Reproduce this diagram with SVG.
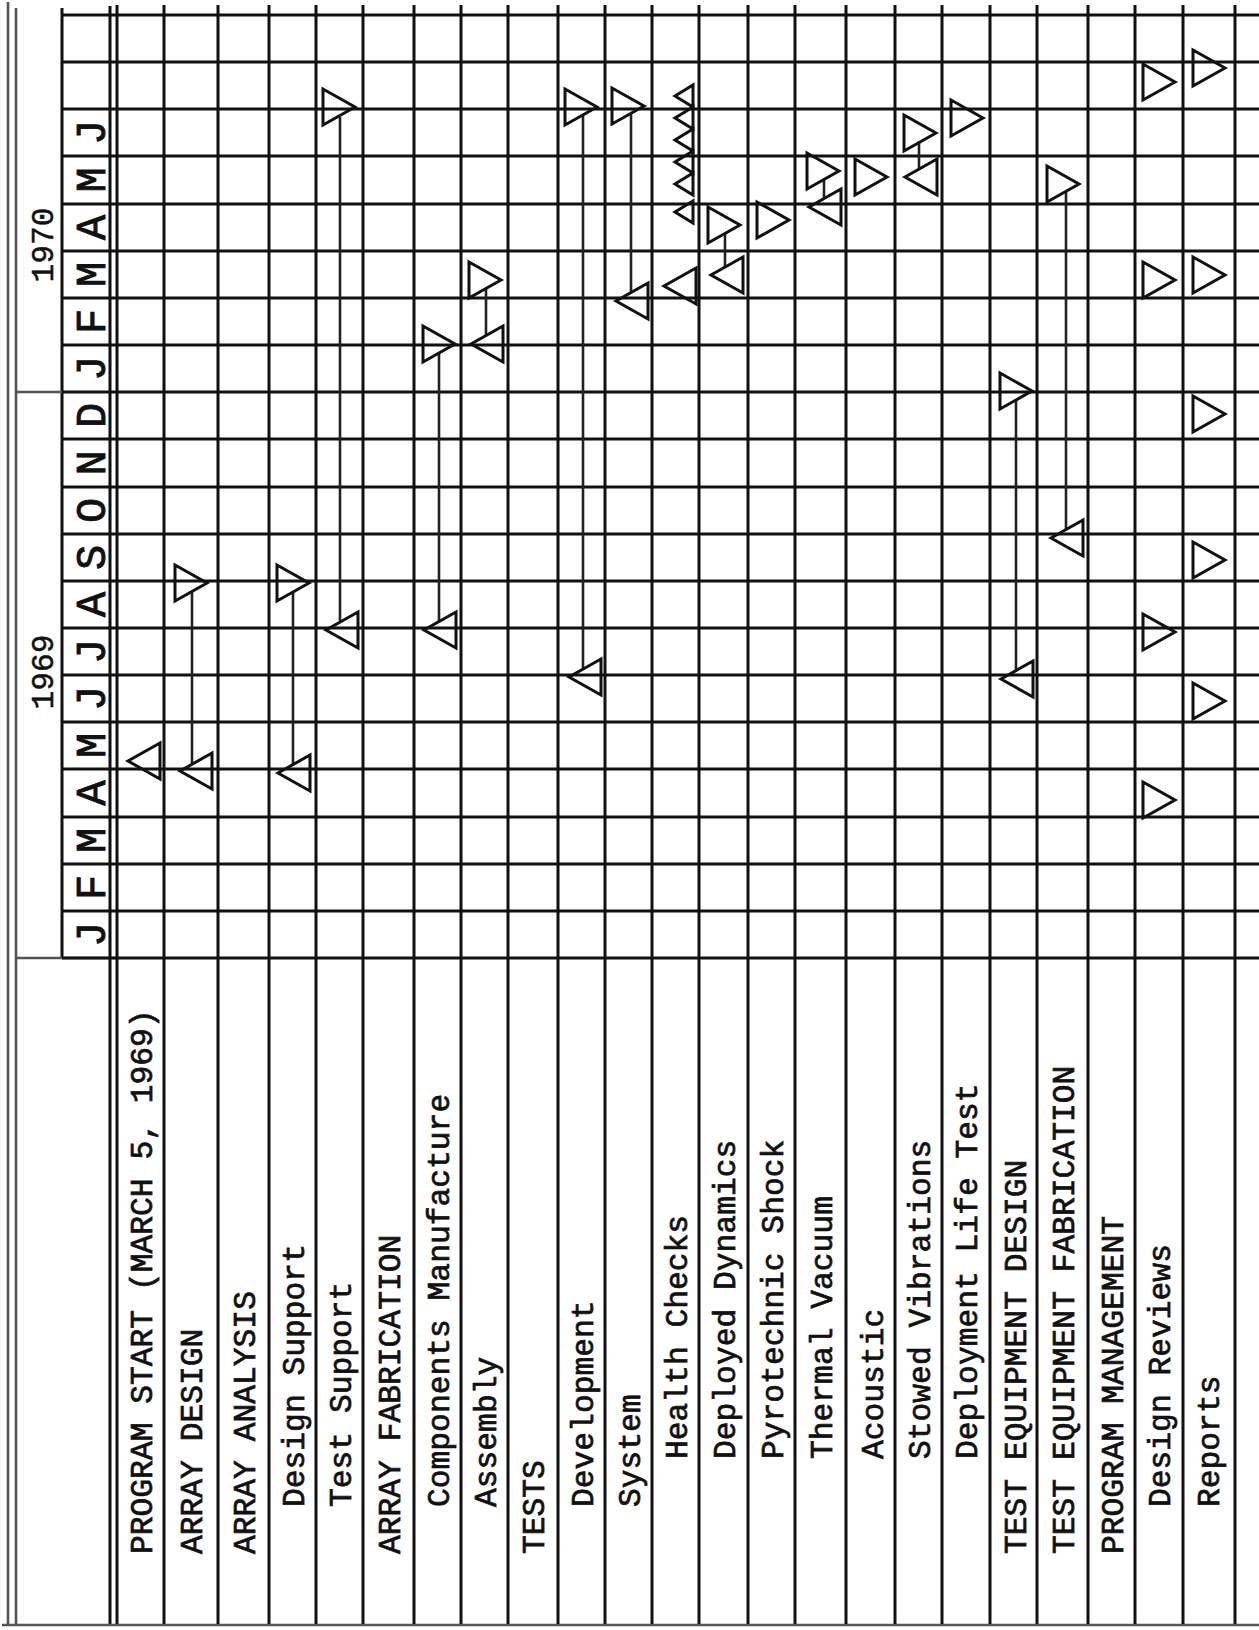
<svg xmlns="http://www.w3.org/2000/svg" width="1259" height="1630" viewBox="0 0 1259 1630">
<style>
.bg{fill:#ffffff}
.g{stroke:#111;stroke-width:3;fill:none}
.o{stroke:#555;stroke-width:2.6;fill:none}
.tri{fill:none;stroke:#111;stroke-width:3;stroke-linejoin:miter}
.conn{stroke:#222;stroke-width:2.6;fill:none}
.lbl{font-family:"Liberation Mono","DejaVu Sans Mono",monospace;font-size:31.3px;fill:#111;stroke:#111;stroke-width:0.7}
.mon{font-family:"Liberation Mono","DejaVu Sans Mono",monospace;font-size:42px;fill:#111;stroke:#111;stroke-width:0.9;text-anchor:middle}
.yr{font-family:"Liberation Mono","DejaVu Sans Mono",monospace;font-size:31.3px;fill:#111;stroke:#111;stroke-width:0.5;text-anchor:middle}
</style>
<defs>
<path id="tR" class="tri" d="M0,-18 V18 L32,0 Z"/>
<path id="tL" class="tri" d="M0,-18 V18 L-32,0 Z"/>
<path id="tLs" class="tri" d="M0,-11 V11 L-18,0 Z"/>
</defs>
<rect class="bg" x="0" y="0" width="1259" height="1630"/>

<g id="frame">
<line class="o" x1="8" y1="2" x2="8" y2="1626"/>
<line class="o" x1="16" y1="8" x2="16" y2="1626"/>
<line class="g" x1="62" y1="8" x2="62" y2="958"/>
<line class="g" x1="110" y1="6" x2="110" y2="1624"/>
<line class="o" x1="16" y1="392" x2="62" y2="392"/>
<line class="o" x1="16" y1="958" x2="117" y2="958"/>
<line class="o" x1="2" y1="1625" x2="1259" y2="1625"/>
</g>

<g id="grid">
<line class="g" x1="117" y1="5" x2="117" y2="1624"/>
<line class="g" x1="164" y1="5" x2="164" y2="1624"/>
<line class="g" x1="218" y1="5" x2="218" y2="1624"/>
<line class="g" x1="269" y1="5" x2="269" y2="1624"/>
<line class="g" x1="316" y1="5" x2="316" y2="1624"/>
<line class="g" x1="363" y1="5" x2="363" y2="1624"/>
<line class="g" x1="414" y1="5" x2="414" y2="1624"/>
<line class="g" x1="461" y1="5" x2="461" y2="1624"/>
<line class="g" x1="508" y1="5" x2="508" y2="1624"/>
<line class="g" x1="558" y1="5" x2="558" y2="1624"/>
<line class="g" x1="605" y1="5" x2="605" y2="1624"/>
<line class="g" x1="652" y1="5" x2="652" y2="1624"/>
<line class="g" x1="699" y1="5" x2="699" y2="1624"/>
<line class="g" x1="748" y1="5" x2="748" y2="1624"/>
<line class="g" x1="795" y1="5" x2="795" y2="1624"/>
<line class="g" x1="846" y1="5" x2="846" y2="1624"/>
<line class="g" x1="895" y1="5" x2="895" y2="1624"/>
<line class="g" x1="942" y1="5" x2="942" y2="1624"/>
<line class="g" x1="990" y1="5" x2="990" y2="1624"/>
<line class="g" x1="1037" y1="5" x2="1037" y2="1624"/>
<line class="g" x1="1088" y1="5" x2="1088" y2="1624"/>
<line class="g" x1="1135" y1="5" x2="1135" y2="1624"/>
<line class="g" x1="1183" y1="5" x2="1183" y2="1624"/>
<line class="g" x1="1235" y1="5" x2="1235" y2="1624"/>
<line class="g" x1="62" y1="15" x2="1259" y2="15"/>
<line class="g" x1="62" y1="62" x2="1259" y2="62"/>
<line class="g" x1="62" y1="109" x2="1259" y2="109"/>
<line class="g" x1="62" y1="156" x2="1259" y2="156"/>
<line class="g" x1="62" y1="204" x2="1259" y2="204"/>
<line class="g" x1="62" y1="251" x2="1259" y2="251"/>
<line class="g" x1="62" y1="298" x2="1259" y2="298"/>
<line class="g" x1="62" y1="345" x2="1259" y2="345"/>
<line class="g" x1="62" y1="392" x2="1259" y2="392"/>
<line class="g" x1="62" y1="439" x2="1259" y2="439"/>
<line class="g" x1="62" y1="487" x2="1259" y2="487"/>
<line class="g" x1="62" y1="534" x2="1259" y2="534"/>
<line class="g" x1="62" y1="581" x2="1259" y2="581"/>
<line class="g" x1="62" y1="628" x2="1259" y2="628"/>
<line class="g" x1="62" y1="675" x2="1259" y2="675"/>
<line class="g" x1="62" y1="722" x2="1259" y2="722"/>
<line class="g" x1="62" y1="769" x2="1259" y2="769"/>
<line class="g" x1="62" y1="817" x2="1259" y2="817"/>
<line class="g" x1="62" y1="864" x2="1259" y2="864"/>
<line class="g" x1="62" y1="911" x2="1259" y2="911"/>
<line class="g" x1="62" y1="958" x2="1259" y2="958"/>
</g>

<g id="header">
<text class="yr" x="53" y="245" transform="rotate(-90 53 245)">1970</text>
<text class="yr" x="53" y="672" transform="rotate(-90 53 672)">1969</text>
<text class="mon" x="105" y="132.5" transform="rotate(-90 105 132.5)">J</text>
<text class="mon" x="105" y="180" transform="rotate(-90 105 180)">M</text>
<text class="mon" x="105" y="227.5" transform="rotate(-90 105 227.5)">A</text>
<text class="mon" x="105" y="274.5" transform="rotate(-90 105 274.5)">M</text>
<text class="mon" x="105" y="321.5" transform="rotate(-90 105 321.5)">F</text>
<text class="mon" x="105" y="368.5" transform="rotate(-90 105 368.5)">J</text>
<text class="mon" x="105" y="415.5" transform="rotate(-90 105 415.5)">D</text>
<text class="mon" x="105" y="463" transform="rotate(-90 105 463)">N</text>
<text class="mon" x="105" y="510.5" transform="rotate(-90 105 510.5)">O</text>
<text class="mon" x="105" y="557.5" transform="rotate(-90 105 557.5)">S</text>
<text class="mon" x="105" y="604.5" transform="rotate(-90 105 604.5)">A</text>
<text class="mon" x="105" y="651.5" transform="rotate(-90 105 651.5)">J</text>
<text class="mon" x="105" y="698.5" transform="rotate(-90 105 698.5)">J</text>
<text class="mon" x="105" y="745.5" transform="rotate(-90 105 745.5)">M</text>
<text class="mon" x="105" y="793" transform="rotate(-90 105 793)">A</text>
<text class="mon" x="105" y="840.5" transform="rotate(-90 105 840.5)">M</text>
<text class="mon" x="105" y="887.5" transform="rotate(-90 105 887.5)">F</text>
<text class="mon" x="105" y="934.5" transform="rotate(-90 105 934.5)">J</text>
</g>

<g id="connectors">
<line class="conn" x1="192" y1="592" x2="192" y2="765"/>
<line class="conn" x1="293" y1="593" x2="293" y2="764"/>
<line class="conn" x1="340" y1="117" x2="340" y2="621"/>
<line class="conn" x1="439" y1="353" x2="439" y2="621"/>
<line class="conn" x1="486" y1="289" x2="486" y2="335"/>
<line class="conn" x1="583" y1="115" x2="583" y2="669"/>
<line class="conn" x1="631" y1="114" x2="631" y2="293"/>
<line class="conn" x1="725" y1="233" x2="725" y2="267"/>
<line class="conn" x1="824" y1="179" x2="824" y2="198"/>
<line class="conn" x1="919" y1="141" x2="919" y2="169"/>
<line class="conn" x1="1016" y1="399" x2="1016" y2="671"/>
<line class="conn" x1="1066" y1="191" x2="1066" y2="530"/>
</g>

<g id="row-program-start">
<text class="lbl" x="151.5" y="1554" transform="rotate(-90 151.5 1554)">PROGRAM START (MARCH 5, 1969)</text>
<use href="#tL" x="160" y="761"/>
</g>
<g id="row-array-design">
<text class="lbl" x="202" y="1554" transform="rotate(-90 202 1554)">ARRAY DESIGN</text>
<use href="#tR" x="175" y="583"/>
<use href="#tL" x="212" y="771"/>
</g>
<g id="row-array-analysis">
<text class="lbl" x="254.5" y="1554" transform="rotate(-90 254.5 1554)">ARRAY ANALYSIS</text>
</g>
<g id="row-design-support">
<text class="lbl" x="303.5" y="1507" transform="rotate(-90 303.5 1507)">Design Support</text>
<use href="#tR" x="277" y="583"/>
<use href="#tL" x="310" y="773"/>
</g>
<g id="row-test-support">
<text class="lbl" x="350.5" y="1507" transform="rotate(-90 350.5 1507)">Test Support</text>
<use href="#tR" x="323" y="107"/>
<use href="#tL" x="358" y="630"/>
</g>
<g id="row-array-fabrication">
<text class="lbl" x="399.5" y="1554" transform="rotate(-90 399.5 1554)">ARRAY FABRICATION</text>
</g>
<g id="row-components-manufacture">
<text class="lbl" x="448.5" y="1507" transform="rotate(-90 448.5 1507)">Components Manufacture</text>
<use href="#tR" x="423" y="344"/>
<use href="#tL" x="456" y="630"/>
</g>
<g id="row-assembly">
<text class="lbl" x="495.5" y="1507" transform="rotate(-90 495.5 1507)">Assembly</text>
<use href="#tR" x="469" y="280"/>
<use href="#tL" x="503" y="344"/>
</g>
<g id="row-tests">
<text class="lbl" x="544" y="1554" transform="rotate(-90 544 1554)">TESTS</text>
</g>
<g id="row-development">
<text class="lbl" x="592.5" y="1507" transform="rotate(-90 592.5 1507)">Development</text>
<use href="#tR" x="565" y="107"/>
<use href="#tL" x="601" y="677"/>
</g>
<g id="row-system">
<text class="lbl" x="639.5" y="1507" transform="rotate(-90 639.5 1507)">System</text>
<use href="#tR" x="612" y="106"/>
<use href="#tL" x="648" y="301"/>
</g>
<g id="row-health-checks">
<text class="lbl" x="686.5" y="1459" transform="rotate(-90 686.5 1459)">Health Checks</text>
<use href="#tL" x="696" y="286"/>
<use href="#tLs" x="693" y="96"/>
<use href="#tLs" x="693" y="118"/>
<use href="#tLs" x="693" y="140"/>
<use href="#tLs" x="693" y="162"/>
<use href="#tLs" x="693" y="184"/>
<use href="#tLs" x="693" y="212"/>
</g>
<g id="row-deployed-dynamics">
<text class="lbl" x="734.5" y="1459" transform="rotate(-90 734.5 1459)">Deployed Dynamics</text>
<use href="#tR" x="708" y="225"/>
<use href="#tL" x="743" y="275"/>
</g>
<g id="row-pyrotechnic-shock">
<text class="lbl" x="782.5" y="1459" transform="rotate(-90 782.5 1459)">Pyrotechnic Shock</text>
<use href="#tR" x="757" y="220"/>
</g>
<g id="row-thermal-vacuum">
<text class="lbl" x="831.5" y="1459" transform="rotate(-90 831.5 1459)">Thermal Vacuum</text>
<use href="#tR" x="807" y="171"/>
<use href="#tL" x="841" y="207"/>
</g>
<g id="row-acoustic">
<text class="lbl" x="882.5" y="1459" transform="rotate(-90 882.5 1459)">Acoustic</text>
<use href="#tR" x="855" y="177"/>
</g>
<g id="row-stowed-vibrations">
<text class="lbl" x="929.5" y="1459" transform="rotate(-90 929.5 1459)">Stowed Vibrations</text>
<use href="#tR" x="904" y="133"/>
<use href="#tL" x="937" y="177"/>
</g>
<g id="row-deployment-life-test">
<text class="lbl" x="977" y="1459" transform="rotate(-90 977 1459)">Deployment Life Test</text>
<use href="#tR" x="951" y="118"/>
</g>
<g id="row-test-equipment-design">
<text class="lbl" x="1025.5" y="1554" transform="rotate(-90 1025.5 1554)">TEST EQUIPMENT DESIGN</text>
<use href="#tR" x="1000" y="391"/>
<use href="#tL" x="1033" y="679"/>
</g>
<g id="row-test-equipment-fabrication">
<text class="lbl" x="1073.5" y="1554" transform="rotate(-90 1073.5 1554)">TEST EQUIPMENT FABRICATION</text>
<use href="#tR" x="1047" y="184"/>
<use href="#tL" x="1083" y="538"/>
</g>
<g id="row-program-management">
<text class="lbl" x="1122.5" y="1554" transform="rotate(-90 1122.5 1554)">PROGRAM MANAGEMENT</text>
</g>
<g id="row-design-reviews">
<text class="lbl" x="1170" y="1507" transform="rotate(-90 1170 1507)">Design Reviews</text>
<use href="#tR" x="1143" y="82"/>
<use href="#tR" x="1143" y="280"/>
<use href="#tR" x="1143" y="632"/>
<use href="#tR" x="1143" y="800"/>
</g>
<g id="row-reports">
<text class="lbl" x="1219" y="1507" transform="rotate(-90 1219 1507)">Reports</text>
<use href="#tR" x="1193" y="68"/>
<use href="#tR" x="1193" y="275"/>
<use href="#tR" x="1193" y="414"/>
<use href="#tR" x="1193" y="560"/>
<use href="#tR" x="1193" y="701"/>
</g>
</svg>
